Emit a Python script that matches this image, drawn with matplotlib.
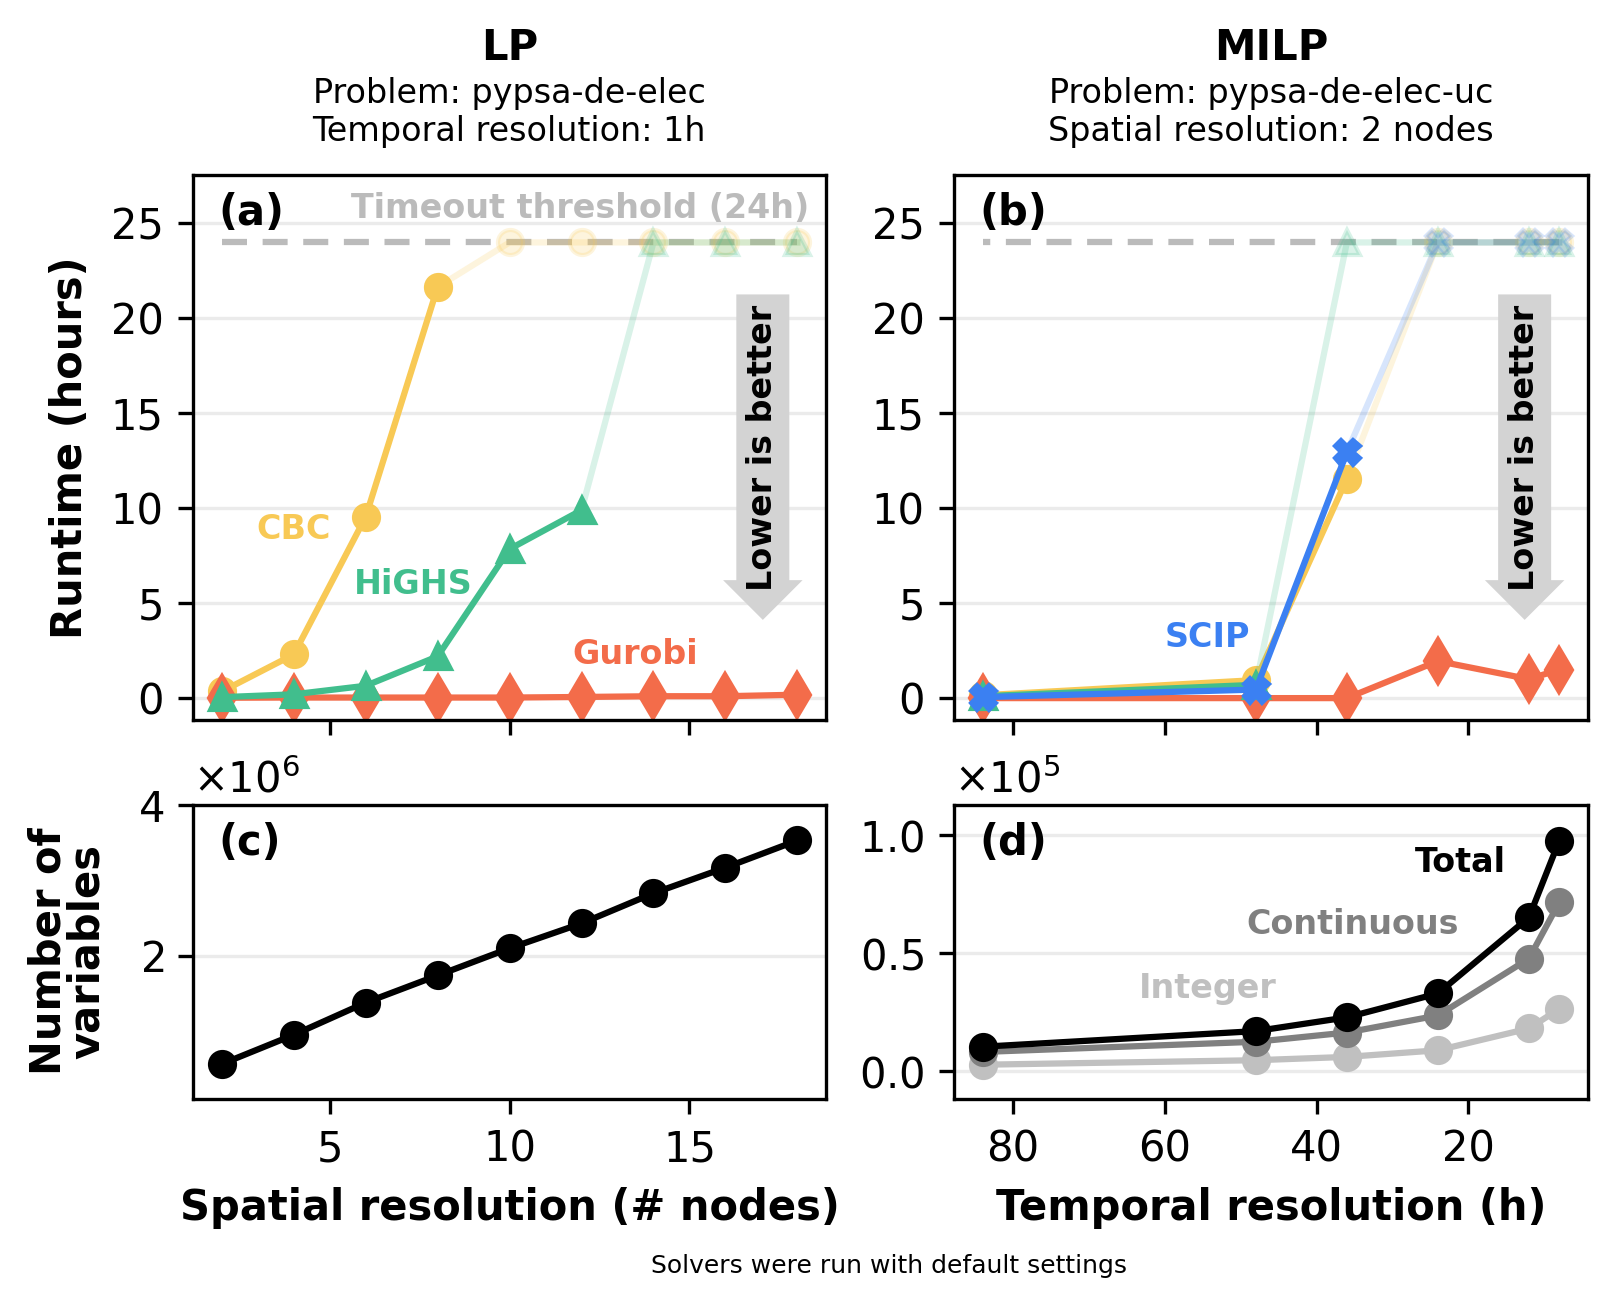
import numpy as np
import matplotlib
matplotlib.use("Agg")
import matplotlib.pyplot as plt

# data
nodes = [2, 4, 6, 8, 10, 12, 14, 16, 18]
lp_cbc = [0.35, 2.3, 9.55, 21.65, 24, 24, 24, 24, 24]
lp_highs = [0.05, 0.2, 0.65, 2.2, 7.85, 9.9, 24, 24, 24]
lp_gurobi = [0.02, 0.03, 0.03, 0.03, 0.03, 0.06, 0.1, 0.1, 0.18]

hours = [84, 48, 36, 24, 12, 8]
milp_cbc = [0.15, 0.95, 11.55, 24, 24, 24]
milp_highs = [0.1, 0.7, 24, 24, 24, 24]
milp_scip = [0.05, 0.45, 12.95, 24, 24, 24]
milp_gurobi = [0.0, 0.0, 0.0, 1.95, 1.0, 1.5]

lp_nvars = [0.565e6, 0.952e6, 1.379e6, 1.74e6, 2.10e6, 2.43e6, 2.83e6, 3.17e6, 3.53e6]
milp_total = [0.104e5, 0.170e5, 0.228e5, 0.329e5, 0.650e5, 0.974e5]
milp_cont = [0.082e5, 0.125e5, 0.164e5, 0.236e5, 0.476e5, 0.714e5]
milp_int = [0.028e5, 0.047e5, 0.061e5, 0.089e5, 0.181e5, 0.264e5]

TIMEOUT = 24

c_cbc = "#F8C955"
c_highs = "#41BE8D"
c_gurobi = "#F36C4A"
c_scip = "#3B80F2"

plt.rcParams["font.size"] = 8
plt.rcParams["axes.linewidth"] = 0.8
plt.rcParams["xtick.labelsize"] = 10
plt.rcParams["ytick.labelsize"] = 10

fig = plt.figure(figsize=(1617 / 300, 1309 / 300), dpi=300)
ax_a = fig.add_axes([0.1194, 0.4500, 0.3915, 0.4163])
ax_b = fig.add_axes([0.5900, 0.4500, 0.3921, 0.4163])
ax_c = fig.add_axes([0.1194, 0.1604, 0.3915, 0.2246], sharex=ax_a)
ax_d = fig.add_axes([0.5900, 0.1604, 0.3921, 0.2246], sharex=ax_b)


def plot_solver(ax, x, y, color, marker, ms=6):
    x = np.array(x)
    y = np.array(y, dtype=float)
    ok = y < TIMEOUT
    ax.plot(x[ok], y[ok], color=color, marker=marker, ms=ms, lw=1.5)
    if (~ok).any():
        last = np.where(ok)[0][-1]
        ax.plot(x[last:], y[last:], color=color, marker=marker, ms=ms,
                lw=1.5, alpha=0.2)


for ax, x in [(ax_a, nodes), (ax_b, hours)]:
    ax.hlines(TIMEOUT, min(x), max(x), colors="#bbbbbb", linestyles=(0, (4, 2.5)), lw=1.5, zorder=1)
    ax.set_ylim(-1.15, 27.55)
    ax.set_yticks([0, 5, 10, 15, 20, 25])
    ax.grid(axis="y", color="#ebebeb", lw=0.8)
    ax.set_axisbelow(True)
    ax.tick_params(labelbottom=False)
    ax.text(0.90, 0.50, "Lower is better", transform=ax.transAxes, rotation=90,
            ha="center", va="center", fontsize=8, fontweight="bold",
            bbox=dict(boxstyle="larrow,pad=0.3", fc="#d3d3d3", ec="none"))

plot_solver(ax_a, nodes, lp_cbc, c_cbc, "o")
plot_solver(ax_a, nodes, lp_gurobi, c_gurobi, "d", ms=7.5)
plot_solver(ax_a, nodes, lp_highs, c_highs, "^")

plot_solver(ax_b, hours, milp_cbc, c_cbc, "o")
plot_solver(ax_b, hours, milp_gurobi, c_gurobi, "d", ms=7.5)
plot_solver(ax_b, hours, milp_highs, c_highs, "^")
plot_solver(ax_b, hours, milp_scip, c_scip, "X")

ax_a.text(4.0, 8.9, "CBC", color=c_cbc, fontweight="bold", ha="center", va="center")
ax_a.text(7.33, 6.0, "HiGHS", color=c_highs, fontweight="bold", ha="center", va="center")
ax_a.text(13.5, 2.3, "Gurobi", color=c_gurobi, fontweight="bold", ha="center", va="center")
ax_b.text(54.4, 3.2, "SCIP", color=c_scip, fontweight="bold", ha="center", va="center")
ax_a.annotate("Timeout threshold (24h)", xy=(1, 1), xycoords="axes fraction",
              xytext=(-4, -4), textcoords="offset points", ha="right", va="top",
              color="#bbbbbb", fontweight="bold")

# bottom panels
ax_c.plot(nodes, lp_nvars, color="black", marker="o", ms=6, lw=1.5)
ax_c.set_ylim(0.1e6, 4.0e6)
ax_c.set_yticks([2e6, 4e6])
ax_c.set_xticks([5, 10, 15])

ax_d.plot(hours, milp_int, color="#c0c0c0", marker="o", ms=6, lw=1.5)
ax_d.plot(hours, milp_cont, color="#808080", marker="o", ms=6, lw=1.5)
ax_d.plot(hours, milp_total, color="black", marker="o", ms=6, lw=1.5)
ax_d.set_ylim(-0.117e5, 1.125e5)
ax_d.set_yticks([0, 0.5e5, 1.0e5])
ax_d.set_xticks([80, 60, 40, 20])
ax_d.invert_xaxis()
ax_d.text(21.1, 0.884e5, "Total", color="black", fontweight="bold", ha="center", va="center")
ax_d.text(35.2, 0.62e5, "Continuous", color="#808080", fontweight="bold", ha="center", va="center")
ax_d.text(54.4, 0.352e5, "Integer", color="#c0c0c0", fontweight="bold", ha="center", va="center")

for ax in [ax_c, ax_d]:
    ax.grid(axis="y", color="#ebebeb", lw=0.8)
    ax.set_axisbelow(True)
    ax.ticklabel_format(axis="y", style="sci", scilimits=(0, 0), useMathText=True)
    ax.yaxis.get_offset_text().set_fontsize(10)

for ax, lab in [(ax_a, "(a)"), (ax_b, "(b)"), (ax_c, "(c)"), (ax_d, "(d)")]:
    ax.annotate(lab, xy=(0, 1), xycoords="axes fraction", xytext=(6, -4),
                textcoords="offset points", ha="left", va="top",
                fontweight="bold", fontsize=10)

ax_c.set_xlabel("Spatial resolution (# nodes)", fontsize=10, fontweight="bold")
ax_d.set_xlabel("Temporal resolution (h)", fontsize=10, fontweight="bold")

fig.text(0.0433, 0.658, "Runtime (hours)", rotation=90, ha="center", va="center",
         fontsize=10, fontweight="bold")
fig.text(0.0420, 0.273, "Number of\nvariables", rotation=90, ha="center", va="center",
         fontsize=10, fontweight="bold", multialignment="center", linespacing=0.9)

fig.text(0.315, 0.963, "LP", ha="center", va="center", fontsize=10, fontweight="bold")
fig.text(0.315, 0.914, "Problem: pypsa-de-elec\nTemporal resolution: 1h",
         ha="center", va="center", fontsize=8, linespacing=1.2)
fig.text(0.786, 0.963, "MILP", ha="center", va="center", fontsize=10, fontweight="bold")
fig.text(0.786, 0.914, "Problem: pypsa-de-elec-uc\nSpatial resolution: 2 nodes",
         ha="center", va="center", fontsize=8, linespacing=1.2)

fig.text(0.550, 0.033, "Solvers were run with default settings", ha="center",
         va="center", fontsize=6)

fig.savefig("out.png", dpi=300)
